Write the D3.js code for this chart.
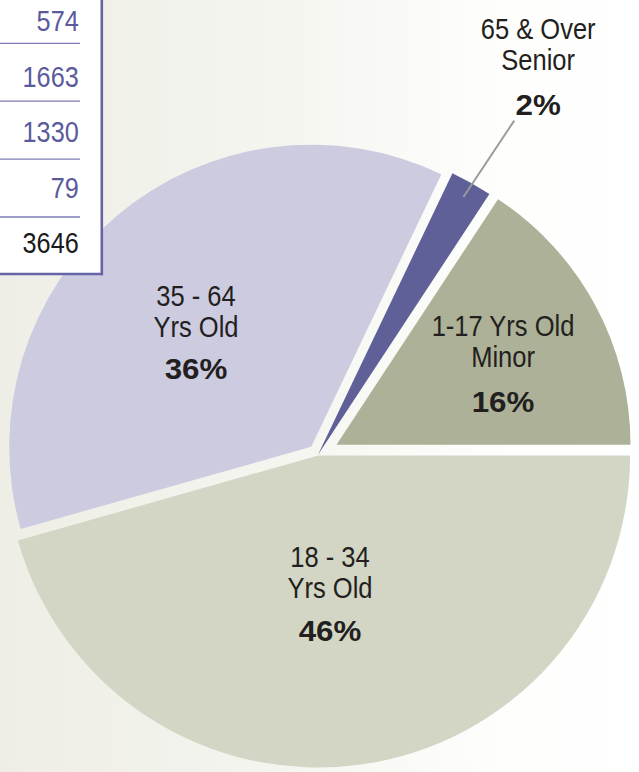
<!DOCTYPE html>
<html><head><meta charset="utf-8">
<script src="https://cdn.jsdelivr.net/npm/d3@7"></script>
<style>html,body{margin:0;padding:0;background:#fff;} svg{display:block;}</style>
</head><body>
<script>
// ---- data ----
const categories = ["18 - 34 Yrs Old", "35 - 64 Yrs Old", "65 & Over Senior", "1-17 Yrs Old Minor"];
const labelLines = [["18 - 34", "Yrs Old"], ["35 - 64", "Yrs Old"], ["65 & Over", "Senior"], ["1-17 Yrs Old", "Minor"]];
const counts = [1663, 1330, 79, 574];
const percentLabels = ["46%", "36%", "2%", "16%"];
const tableValues = [574, 1663, 1330, 79];
const tableTotal = 3646;

// ---- style ----
const W = 639, H = 772;
const sliceColors = ["#d4d6c5", "#cccbe0", "#5f6098", "#adb197"];
const explode = [0.7, 10.5, 0, 21];
const sliceRadius = [312, 302, 312, 294];
const labelPolar = [{r: 143.7, da: 3.1}, {r: 169.9, da: -5.75}, {r: 443.2, da: 0.36}, {r: 204.8, da: 2.95}];
const pctGap = [43, 42, 45, 45];
const outsideLabel = [false, false, true, false];
const cx = 318, cy = 454.8;
const fontFam = "'Liberation Sans', Arial, Helvetica, sans-serif";
const squeeze = 0.88;

const svg = d3.select("body").append("svg").attr("width", W).attr("height", H);
const defs = svg.append("defs");
const grad = defs.append("linearGradient").attr("id", "bg").attr("x1", 0).attr("x2", 1).attr("y1", 0).attr("y2", 0);
grad.append("stop").attr("offset", "0").attr("stop-color", "#eeeee6");
grad.append("stop").attr("offset", "0.45").attr("stop-color", "#f5f5f0");
grad.append("stop").attr("offset", "0.8").attr("stop-color", "#fefefd");
grad.append("stop").attr("offset", "1").attr("stop-color", "#ffffff");
svg.append("rect").attr("width", W).attr("height", H).attr("fill", "url(#bg)");

const pie = d3.pie().sort(null).value(d => d).startAngle(Math.PI / 2).endAngle(Math.PI / 2 + 2 * Math.PI);
const arcs = pie(counts);

const g = svg.append("g").attr("transform", `translate(${cx},${cy})`);
g.selectAll("path.slice").data(arcs).join("path")
  .attr("class", "slice")
  .attr("fill", (d, i) => sliceColors[i])
  .attr("transform", (d, i) => {
    const m = (d.startAngle + d.endAngle) / 2;
    return `translate(${explode[i] * Math.sin(m)},${-explode[i] * Math.cos(m)})`;
  })
  .attr("d", (d, i) => d3.arc().innerRadius(0).outerRadius(sliceRadius[i])(d));

// labels
arcs.forEach((d, i) => {
  const m = (d.startAngle + d.endAngle) / 2 + labelPolar[i].da * Math.PI / 180;
  const x = labelPolar[i].r * Math.sin(m), y = -labelPolar[i].r * Math.cos(m);
  const lg = g.append("g").attr("transform", `translate(${x},${y})`);
  labelLines[i].forEach((t, k) => {
    lg.append("text").attr("transform", `translate(0,${(k - 1) * 31}) scale(${squeeze},1)`)
      .attr("text-anchor", "middle").attr("font-family", fontFam).attr("font-size", 29)
      .attr("fill", "#231f20").text(t);
  });
  lg.append("text").attr("transform", `translate(0,${pctGap[i]}) scale(1.08,1)`)
    .attr("text-anchor", "middle").attr("font-family", fontFam).attr("font-size", 29)
    .attr("font-weight", "bold").attr("fill", "#231f20").text(percentLabels[i]);
  if (outsideLabel[i]) {
    const mm = (d.startAngle + d.endAngle) / 2;
    const r0 = sliceRadius[i] - 16, r1 = sliceRadius[i] + 75.5;
    const m1 = mm + 1 * Math.PI / 180;
    g.append("line")
      .attr("x1", r0 * Math.sin(mm)).attr("y1", -r0 * Math.cos(mm))
      .attr("x2", r1 * Math.sin(m1)).attr("y2", -r1 * Math.cos(m1))
      .attr("stroke", "#9a9a9a").attr("stroke-width", 2);
  }
});

// table (partially visible at top-left)
const tg = svg.append("g");
tg.append("rect").attr("x", -10).attr("y", -10).attr("width", 111.7).attr("height", 284).attr("fill", "#ffffff");
const rowY = d3.scaleLinear().domain([0, 1]).range([31, 86.6]);
const sepY = d3.scaleLinear().domain([0, 1]).range([43.3, 101.2]);
[0, 1, 2, 3].forEach(k => {
  tg.append("line").attr("x1", 0).attr("x2", 80).attr("y1", sepY(k)).attr("y2", sepY(k))
    .attr("stroke", "#7d7db4").attr("stroke-width", 1.3);
});
tableValues.concat([tableTotal]).forEach((v, k) => {
  tg.append("text").attr("transform", `translate(78.7,${rowY(k)}) scale(0.87,1)`)
    .attr("text-anchor", "end").attr("font-family", fontFam).attr("font-size", 29)
    .attr("fill", k < tableValues.length ? "#5a5a9c" : "#1a1a1a").text(v);
});
tg.append("line").attr("x1", 101.8).attr("x2", 101.8).attr("y1", -5).attr("y2", 275.3)
  .attr("stroke", "#6565a6").attr("stroke-width", 2.6);
tg.append("line").attr("x1", -5).attr("x2", 103.1).attr("y1", 274).attr("y2", 274)
  .attr("stroke", "#6565a6").attr("stroke-width", 2.6);
</script>
</body></html>
